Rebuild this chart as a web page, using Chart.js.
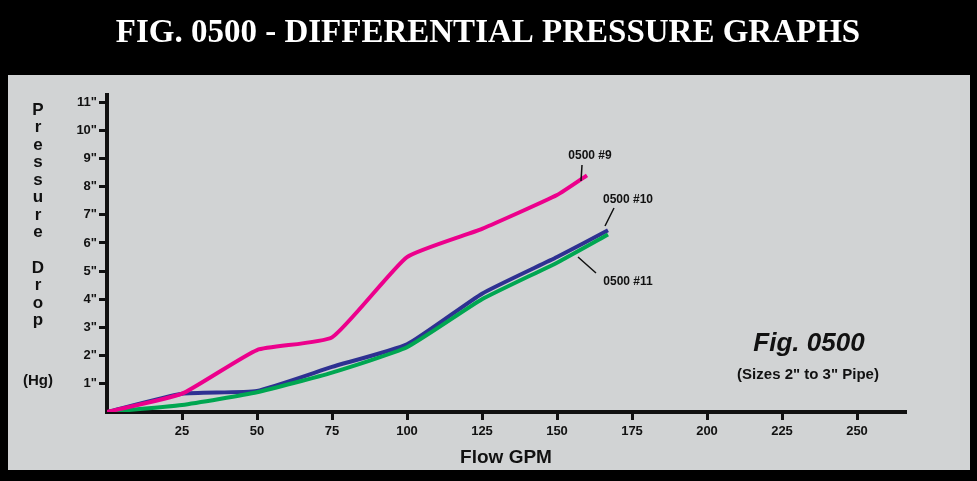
<!DOCTYPE html>
<html><head><meta charset="utf-8">
<script src="https://cdn.jsdelivr.net/npm/chart.js@4"></script>
<style>html,body{margin:0;padding:0;background:#000;}#c{display:block;}</style>
</head><body>
<div style="width:977px;height:481px"><canvas id="c" width="977" height="481"></canvas></div>
<script>
const flow9 = [0, 25, 50, 75, 100, 125, 150, 160];
const drop9 = [0, 0.65, 2.2, 2.65, 5.5, 6.5, 7.7, 8.4];
const flow10 = [0, 25, 50, 75, 100, 125, 150, 167];
const drop10 = [0, 0.65, 0.75, 1.6, 2.4, 4.2, 5.5, 6.45];
const flow11 = [0, 25, 50, 75, 100, 125, 150, 167];
const drop11 = [0, 0.25, 0.7, 1.4, 2.3, 4.0, 5.3, 6.3];
const xTicks = [25, 50, 75, 100, 125, 150, 175, 200, 225, 250];
const yTicks = [1, 2, 3, 4, 5, 6, 7, 8, 9, 10, 11];

const pts = (xs, ys) => xs.map((x, i) => ({ x, y: ys[i] }));

const decor = {
    id: 'decor',
    beforeDraw(chart) {
        const ctx = chart.ctx;
        ctx.save();
        ctx.fillStyle = '#000';
        ctx.fillRect(0, 0, 977, 481);
        ctx.fillStyle = '#d1d3d4';
        ctx.fillRect(8, 75, 962, 395);
        ctx.fillStyle = '#fff';
        ctx.font = 'bold 33px "Liberation Serif"';
        ctx.textAlign = 'center';
        ctx.textBaseline = 'middle';
        ctx.fillText('FIG. 0500 - DIFFERENTIAL PRESSURE GRAPHS', 488, 33);
        ctx.restore();
    },
    afterDraw(chart) {
        const ctx = chart.ctx;
        const xs = chart.scales.x, ys = chart.scales.y;
        ctx.save();
        ctx.fillStyle = '#111';
        ctx.textAlign = 'center';
        ctx.textBaseline = 'middle';
        ctx.font = 'bold 17px "Liberation Sans"';
        'Pressure'.split('').forEach((c, i) => ctx.fillText(c, 38, 110 + i * 17.5));
        'Drop'.split('').forEach((c, i) => ctx.fillText(c, 38, 268 + i * 17.5));
        ctx.font = 'bold 15px "Liberation Sans"';
        ctx.fillText('(Hg)', 38, 381);

        // series labels with leader lines
        ctx.font = 'bold 12px "Liberation Sans"';
        ctx.fillText('0500 #9', 590, 156);
        ctx.fillText('0500 #10', 628, 200);
        ctx.fillText('0500 #11', 628, 282);
        ctx.strokeStyle = '#111';
        ctx.lineWidth = 1.5;
        ctx.beginPath();
        ctx.moveTo(xs.getPixelForValue(158), ys.getPixelForValue(8.2)); ctx.lineTo(582, 165);
        ctx.moveTo(xs.getPixelForValue(166), ys.getPixelForValue(6.6)); ctx.lineTo(614, 208);
        ctx.moveTo(xs.getPixelForValue(157), ys.getPixelForValue(5.5)); ctx.lineTo(596, 273);
        ctx.stroke();

        ctx.font = 'italic bold 26px "Liberation Sans"';
        ctx.fillText('Fig. 0500', 809, 344);
        ctx.font = 'bold 15px "Liberation Sans"';
        ctx.fillText('(Sizes 2" to 3" Pipe)', 808, 375);
        ctx.restore();
    }
};

new Chart(document.getElementById('c'), {
    type: 'line',
    data: {
        datasets: [
            { label: '0500 #9', data: pts(flow9, drop9), borderColor: '#ec008c' },
            { label: '0500 #11', data: pts(flow11, drop11), borderColor: '#00a651' },
            { label: '0500 #10', data: pts(flow10, drop10), borderColor: '#2e3192' }
        ]
    },
    options: {
        responsive: false,
        animation: false,
        elements: { point: { radius: 0 }, line: { borderWidth: 4, tension: 0.15 } },
        layout: { padding: { left: 8, top: 95, right: 72, bottom: 8 } },
        plugins: { legend: { display: false }, tooltip: { enabled: false } },
        scales: {
            x: {
                type: 'linear', min: 0, max: 266,
                afterBuildTicks: s => { s.ticks = xTicks.map(v => ({ value: v })); },
                afterFit: s => { s.height = 61; },
                border: { color: '#111', width: 4 },
                grid: { drawOnChartArea: false, color: '#111', lineWidth: 3, tickLength: 8 },
                ticks: { color: '#111', font: { family: 'Liberation Sans', weight: 'bold', size: 13 }, padding: 4 },
                title: { display: true, text: 'Flow GPM', color: '#111', font: { family: 'Liberation Sans', weight: 'bold', size: 19 }, padding: { top: 0 } }
            },
            y: {
                min: 0, max: 11.25,
                afterBuildTicks: s => { s.ticks = yTicks.map(v => ({ value: v })); },
                afterFit: s => { s.width = 99; },
                border: { color: '#111', width: 4 },
                grid: { drawOnChartArea: false, color: '#111', lineWidth: 3, tickLength: 8 },
                ticks: { color: '#111', font: { family: 'Liberation Sans', weight: 'bold', size: 13 }, padding: 2, callback: v => v + '"' }
            }
        }
    },
    plugins: [decor]
});
</script>
</body></html>
